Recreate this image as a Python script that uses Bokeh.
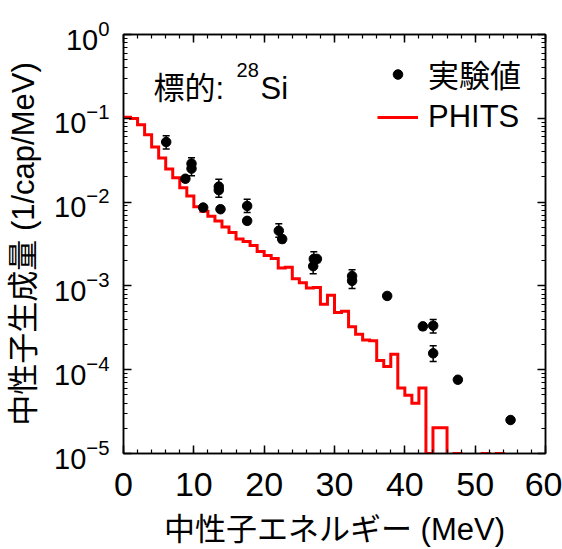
from bokeh.plotting import figure
from bokeh.models import (ColumnDataSource, Whisker, TeeHead, LinearAxis, LogAxis,
                          Legend, LegendItem, Label, FixedTicker, SingleIntervalTicker)
from bokeh.embed import file_html
from bokeh.resources import INLINE

# ---------------- data ----------------
# PHITS histogram: lower bin edges (MeV), 1 MeV bins, yield (1/cap/MeV); 0 = empty bin
phits_bin_low = list(range(55))
phits_bin_width = 1.0
phits_yield = [
    0.103, 0.0997, 0.0835, 0.0636, 0.0455, 0.0337, 0.0249, 0.0195, 0.01485, 0.0118,
    0.00882, 0.00778, 0.00679, 0.00593, 0.00503, 0.00433, 0.00362, 0.00339, 0.00304, 0.00258,
    0.00231, 0.00213, 0.00163, 0.00167, 0.00122, 0.00109, 0.000944, 0.000959, 0.000604, 0.000771,
    0.000481, 0.000499, 0.000326, 0.000264, 0.000226, 0.000222, 0.000129, 0.000109, 0.000153, 6.05e-5,
    4.96e-5, 3.98e-5, 6.05e-5, 1.0e-5, 2.03e-5, 2.03e-5, 0, 1.0e-5, 0, 0,
    0, 1.0e-5, 0, 1.0e-5, 0,
]

# experimental points
exp_energy = [6.07, 8.8, 9.67, 9.67, 11.33, 13.55, 13.55, 13.79, 17.58, 17.58, 22.08, 22.56,
              27.06, 27.5, 26.97, 32.5, 32.5, 37.49, 42.56, 44.03, 44.03, 47.54, 55.03]
exp_yield = [0.0521, 0.019, 0.0288, 0.0251, 0.00861, 0.0153, 0.0139, 0.00822, 0.00899, 0.00597,
             0.00455, 0.00362, 0.0021, 0.0021, 0.00172, 0.00131, 0.00115, 0.000759, 0.000329,
             0.000335, 0.000157, 7.59e-5, 2.51e-5]
exp_upper = [0.0619, 0.0205, 0.0339, 0.029, 0.0093, 0.0187, 0.0160, 0.0089, 0.0108, 0.0064,
             0.0055, 0.0039, 0.00255, 0.0022, 0.0020, 0.00156, 0.00125, 0.00080, 0.00035,
             0.000397, 0.000193, 8.0e-5, 2.65e-5]
exp_lower = [0.043, 0.0175, 0.0245, 0.0206, 0.0080, 0.0130, 0.0114, 0.0076, 0.00752, 0.0055,
             0.0038, 0.0033, 0.00175, 0.0019, 0.0014, 0.00118, 0.00093, 0.00070, 0.00030,
             0.000275, 0.000125, 7.0e-5, 2.35e-5]

x_major_ticks_interval = 10
y_decades = list(range(-5, 1))

# ---------------- figure ----------------
FONT = "Liberation Sans, Noto Sans CJK JP"

p = figure(width=562, height=549, x_range=(0, 60), y_range=(1e-5, 1),
           y_axis_type="log", output_backend="svg", toolbar_location=None,
           min_border_left=123, min_border_right=17, min_border_top=34, min_border_bottom=93)
p.xgrid.grid_line_color = None
p.ygrid.grid_line_color = None
p.outline_line_color = "black"
p.outline_line_width = 1.5

xa = p.below[0]
ya = p.left[0]

# PHITS step line (empty bins sent below the axis so they are clipped)
floor = 1e-8
xs, ys = [], []
for lo, v in zip(phits_bin_low, phits_yield):
    vv = v if v > 0 else floor
    xs += [lo, lo + phits_bin_width]
    ys += [vv, vv]
line_r = p.line(xs, ys, line_color="#ff0000", line_width=3, line_join="miter")

src = ColumnDataSource(dict(x=exp_energy, y=exp_yield, upper=exp_upper, lower=exp_lower))
p.add_layout(Whisker(source=src, base="x", upper="upper", lower="lower",
                     line_color="black", line_width=1.5,
                     upper_head=TeeHead(size=7, line_color="black", line_width=1.5),
                     lower_head=TeeHead(size=7, line_color="black", line_width=1.5)))
sc = p.scatter("x", "y", source=src, size=9.5, color="black", marker="circle")

# ticks
xticker = SingleIntervalTicker(interval=x_major_ticks_interval, num_minor_ticks=5)
yticker = FixedTicker(ticks=[10.0 ** e for e in y_decades],
                      minor_ticks=[k * 10.0 ** e for e in y_decades[:-1] for k in range(2, 10)])
xa.ticker = xticker
ya.ticker = yticker

top = LinearAxis(ticker=xticker, major_label_text_font_size="0px", major_label_text_color=None,
                 major_label_standoff=0)
right = LogAxis(ticker=yticker, major_label_text_font_size="0px", major_label_text_color=None,
                major_label_standoff=0)
p.add_layout(top, "above")
p.add_layout(right, "right")

for ax in [xa, ya, top, right]:
    ax.major_tick_in = 8
    ax.major_tick_out = 0
    ax.minor_tick_in = 4
    ax.minor_tick_out = 0
    ax.axis_line_width = 1.5
    ax.axis_line_color = "black"
    ax.major_tick_line_width = 1.5
    ax.minor_tick_line_width = 1.2
    ax.major_tick_line_color = "black"
    ax.minor_tick_line_color = "black"

xa.axis_label = "中性子エネルギー (MeV)"
xa.major_label_text_font = FONT
xa.major_label_text_font_size = "34px"
xa.major_label_text_color = "black"
xa.major_label_standoff = 19
xa.axis_label_text_font = FONT
xa.axis_label_text_font_size = "31px"
xa.axis_label_text_font_style = "normal"
xa.axis_label_text_color = "black"
xa.axis_label_standoff = 13

ya.axis_label = "中性子生成量 (1/cap/MeV)"
ya.major_label_text_font = FONT
ya.major_label_text_font_size = "29px"
ya.major_label_text_color = "black"
ya.major_label_standoff = 14
ya.axis_label_text_font = FONT
ya.axis_label_text_font_size = "31px"
ya.axis_label_text_font_style = "normal"
ya.axis_label_text_color = "black"
ya.axis_label_standoff = 10

# target annotation
for txt, xv, yv, fs in [("標的: ", 4.27, 0.229, "31px"), ("28", 16.07, 0.3745, "20px"), ("Si", 19.48, 0.229, "31px")]:
    p.add_layout(Label(x=xv, y=yv, text=txt, text_font=FONT, text_font_size=fs,
                       text_color="black", text_align="left", text_baseline="alphabetic"))

legend = Legend(items=[LegendItem(label="実験値", renderers=[sc]),
                       LegendItem(label="PHITS", renderers=[line_r])],
                location=(254, 318), label_text_font=FONT, label_text_font_size="31px",
                label_text_color="black", glyph_width=41, glyph_height=24,
                label_standoff=10, spacing=3, padding=0, margin=0,
                border_line_alpha=0, background_fill_alpha=0)
p.add_layout(legend)

open("out.html", "w").write(file_html(p, INLINE))
